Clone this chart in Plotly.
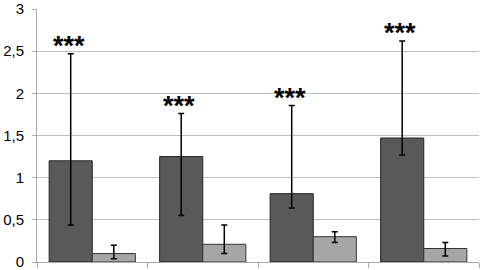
import plotly.graph_objects as go

categories = ["A", "B", "C", "D"]
dark_values = [1.20, 1.25, 0.81, 1.47]
dark_err_plus = [1.27, 0.51, 1.045, 1.15]
dark_err_minus = [0.76, 0.70, 0.17, 0.20]
light_values = [0.10, 0.21, 0.30, 0.16]
light_err_plus = [0.10, 0.23, 0.06, 0.07]
light_err_minus = [0.06, 0.11, 0.07, 0.09]
stars = ["***", "***", "***", "***"]
y_ticks = [0, 0.5, 1, 1.5, 2, 2.5, 3]
y_tick_labels = ["0", "0,5", "1", "1,5", "2", "2,5", "3"]

fig = go.Figure()
fig.add_trace(go.Bar(
    x=categories, y=dark_values, marker=dict(color="#595959", line=dict(color="#222222", width=1)),
    error_y=dict(type="data", symmetric=False, array=dark_err_plus, arrayminus=dark_err_minus,
                 color="black", thickness=1.5, width=3),
))
fig.add_trace(go.Bar(
    x=categories, y=light_values, marker=dict(color="#a6a6a6", line=dict(color="#333333", width=1)),
    error_y=dict(type="data", symmetric=False, array=light_err_plus, arrayminus=light_err_minus,
                 color="black", thickness=1.5, width=3),
))

for i, c in enumerate(categories):
    fig.add_annotation(x=c, y=dark_values[i] + dark_err_plus[i], text="<b>" + stars[i] + "</b>",
                       showarrow=False, xshift=-23.5, yanchor="bottom", yshift=-9,
                       font=dict(family="Liberation Sans, Arial", size=27, color="black"))

fig.update_layout(
    width=480, height=270, margin=dict(l=37, r=1, t=9, b=8, autoexpand=False),
    paper_bgcolor="white", plot_bgcolor="white", showlegend=False,
    barmode="group", bargap=0.22, bargroupgap=0,
    xaxis=dict(showticklabels=False, tickson="boundaries", ticks="outside", ticklen=5,
               tickcolor="#aaaaaa", showline=True, linecolor="#aaaaaa", showgrid=False,
               automargin=False),
    yaxis=dict(range=[0, 3], tickvals=y_ticks, ticktext=y_tick_labels, showgrid=True,
               gridcolor="#bfbfbf", gridwidth=1, showline=True, linecolor="#aaaaaa",
               zeroline=False, ticks="outside", ticklen=4, tickcolor="#aaaaaa",
               automargin=False, ticklabelstandoff=5, ticklabeloverflow="allow",
               tickfont=dict(family="Liberation Sans, Arial", size=15, color="black")),
)
fig.write_html("out.html", config={"displayModeBar": False},
               post_script="document.body.style.margin='0';document.body.style.overflow='hidden';")
